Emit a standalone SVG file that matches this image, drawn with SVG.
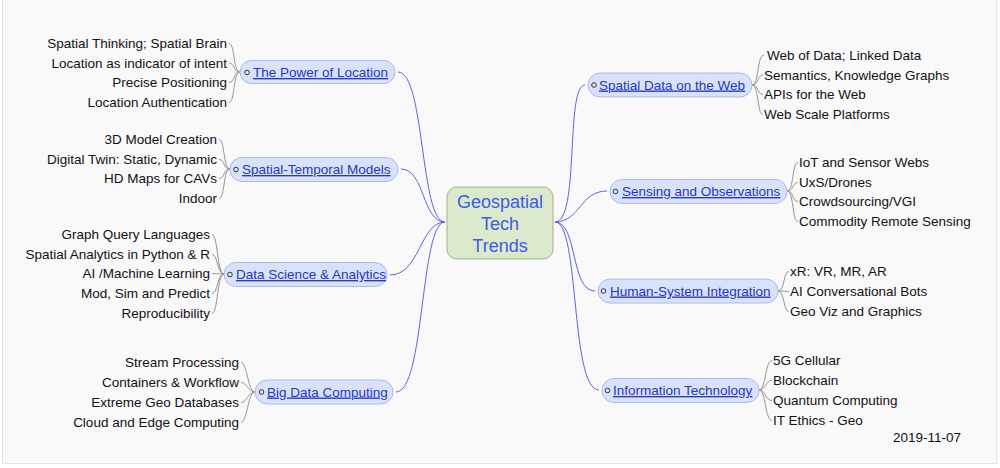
<svg xmlns="http://www.w3.org/2000/svg" width="1000" height="468" viewBox="0 0 1000 468">
<style>
.bg{fill:#f9f9fa;stroke:#e4e4e6;stroke-width:1}
.pill{fill:#d9e2fa;stroke:#aab9ee;stroke-width:1}
.lbl{font-family:"Liberation Sans",Arial,sans-serif;font-size:13.5px;fill:#2437c9;text-decoration:underline}
.leaf{font-family:"Liberation Sans",Arial,sans-serif;font-size:13.5px;fill:#111}
.leaf-l{text-anchor:end}
.ico{fill:none;stroke:#333;stroke-width:1}
.main{fill:none;stroke:#5b67dc;stroke-width:1}
.sub{fill:none;stroke:#8a8a8a;stroke-width:0.9}
.ctr{fill:#dde9cc;stroke:#99b685;stroke-width:1}
.ctxt{font-family:"Liberation Sans",Arial,sans-serif;font-size:18px;fill:#3a5ce6;text-anchor:middle}
</style>
<rect x="0" y="0" width="1000" height="468" fill="#ffffff"/>
<rect class="bg" x="2.5" y="-1" width="994" height="464.5"/>

<g id="connectors">
  <path class="main" d="M398,72 C425,72 420,222 445,222"/>
  <path class="main" d="M401,169 C425,169 422,222 445,222"/>
  <path class="main" d="M390,275 C420,275 420,222 445,222"/>
  <path class="main" d="M396,392 C425,392 420,222 445,222"/>
  <path class="main" d="M585,85 C565,85 580,222 555,222"/>
  <path class="main" d="M607,191 C580,191 580,222 555,222"/>
  <path class="main" d="M595,291 C570,291 578,222 555,222"/>
  <path class="main" d="M599,390 C570,390 580,222 555,222"/>

  <path class="sub" d="M240,72 C233,72 235,43.5 229,43.5"/>
  <path class="sub" d="M240,72 C233,72 235,63 229,63"/>
  <path class="sub" d="M240,72 C233,72 235,82.5 229,82.5"/>
  <path class="sub" d="M240,72 C233,72 235,102.5 229,102.5"/>

  <path class="sub" d="M230,169 C223,169 225,139.5 219,139.5"/>
  <path class="sub" d="M230,169 C223,169 225,159.5 219,159.5"/>
  <path class="sub" d="M230,169 C223,169 225,178.5 219,178.5"/>
  <path class="sub" d="M230,169 C223,169 225,198.5 219,198.5"/>

  <path class="sub" d="M224,274 C217,274 218,234.5 212,234.5"/>
  <path class="sub" d="M224,274 C217,274 218,254.5 212,254.5"/>
  <path class="sub" d="M224,274 C217,274 218,273.5 212,273.5"/>
  <path class="sub" d="M224,274 C217,274 218,293.5 212,293.5"/>
  <path class="sub" d="M224,274 C217,274 218,313.5 212,313.5"/>

  <path class="sub" d="M255,392 C248,392 247,362.5 241,362.5"/>
  <path class="sub" d="M255,392 C248,392 247,382.5 241,382.5"/>
  <path class="sub" d="M255,392 C248,392 247,402.5 241,402.5"/>
  <path class="sub" d="M255,392 C248,392 247,422.5 241,422.5"/>

  <path class="sub" d="M752,85 C759,85 757,55 764,55"/>
  <path class="sub" d="M752,85 C759,85 757,75 763,75"/>
  <path class="sub" d="M752,85 C759,85 757,94.5 763,94.5"/>
  <path class="sub" d="M752,85 C759,85 757,114.5 763,114.5"/>

  <path class="sub" d="M787,191 C794,191 792,162.5 798,162.5"/>
  <path class="sub" d="M787,191 C794,191 792,182.5 798,182.5"/>
  <path class="sub" d="M787,191 C794,191 792,201.5 798,201.5"/>
  <path class="sub" d="M787,191 C794,191 792,221.5 798,221.5"/>

  <path class="sub" d="M778,291 C785,291 783,271.5 789,271.5"/>
  <path class="sub" d="M778,291 C785,291 783,291.5 789,291.5"/>
  <path class="sub" d="M778,291 C785,291 783,311.5 789,311.5"/>

  <path class="sub" d="M759,390 C766,390 765,360.5 772,360.5"/>
  <path class="sub" d="M759,390 C766,390 765,380.5 772,380.5"/>
  <path class="sub" d="M759,390 C766,390 765,400.5 772,400.5"/>
  <path class="sub" d="M759,390 C766,390 765,420.5 772,420.5"/>
</g>

<g id="center">
  <rect class="ctr" x="447" y="187" width="106" height="72" rx="10"/>
  <text class="ctxt" x="500" y="208">Geospatial</text>
  <text class="ctxt" x="500" y="230">Tech</text>
  <text class="ctxt" x="500" y="252">Trends</text>
</g>

<g id="power-of-location">
  <rect class="pill" x="240" y="60.5" width="155" height="23" rx="11.5"/>
  <circle class="ico" cx="247" cy="72.5" r="2.3"/>
  <text class="lbl" x="253" y="77">The Power of Location</text>
  <text class="leaf leaf-l" x="227" y="48">Spatial Thinking; Spatial Brain</text>
  <text class="leaf leaf-l" x="227" y="67.5">Location as indicator of intent</text>
  <text class="leaf leaf-l" x="227" y="87">Precise Positioning</text>
  <text class="leaf leaf-l" x="227" y="107">Location Authentication</text>
</g>

<g id="spatial-temporal-models">
  <rect class="pill" x="230" y="157.5" width="168" height="24" rx="12"/>
  <circle class="ico" cx="236" cy="169.5" r="2.3"/>
  <text class="lbl" x="242" y="174">Spatial-Temporal Models</text>
  <text class="leaf leaf-l" x="217" y="144">3D Model Creation</text>
  <text class="leaf leaf-l" x="217" y="164">Digital Twin: Static, Dynamic</text>
  <text class="leaf leaf-l" x="217" y="183">HD Maps for CAVs</text>
  <text class="leaf leaf-l" x="217" y="203">Indoor</text>
</g>

<g id="data-science">
  <rect class="pill" x="224" y="262.5" width="163" height="24" rx="12"/>
  <circle class="ico" cx="230" cy="274.5" r="2.3"/>
  <text class="lbl" x="236" y="279">Data Science &amp; Analytics</text>
  <text class="leaf leaf-l" x="210" y="239">Graph Query Languages</text>
  <text class="leaf leaf-l" x="210" y="259">Spatial Analytics in Python &amp; R</text>
  <text class="leaf leaf-l" x="210" y="278">AI /Machine Learning</text>
  <text class="leaf leaf-l" x="210" y="298">Mod, Sim and Predict</text>
  <text class="leaf leaf-l" x="210" y="318">Reproducibility</text>
</g>

<g id="big-data-computing">
  <rect class="pill" x="255" y="380" width="138" height="24" rx="12"/>
  <circle class="ico" cx="261.5" cy="392" r="2.3"/>
  <text class="lbl" x="267" y="396.5">Big Data Computing</text>
  <text class="leaf leaf-l" x="239" y="367">Stream Processing</text>
  <text class="leaf leaf-l" x="239" y="387">Containers &amp; Workflow</text>
  <text class="leaf leaf-l" x="239" y="407">Extreme Geo Databases</text>
  <text class="leaf leaf-l" x="239" y="427">Cloud and Edge Computing</text>
</g>

<g id="spatial-data-web">
  <rect class="pill" x="588" y="73" width="164" height="24" rx="12"/>
  <circle class="ico" cx="594" cy="85" r="2.3"/>
  <text class="lbl" x="599" y="89.5">Spatial Data on the Web</text>
  <text class="leaf" x="767" y="60">Web of Data; Linked Data</text>
  <text class="leaf" x="764" y="80">Semantics, Knowledge Graphs</text>
  <text class="leaf" x="764" y="99">APIs for the Web</text>
  <text class="leaf" x="764" y="119">Web Scale Platforms</text>
</g>

<g id="sensing-observations">
  <rect class="pill" x="610" y="179.5" width="177" height="24" rx="12"/>
  <circle class="ico" cx="615.5" cy="191.5" r="2.3"/>
  <text class="lbl" x="622" y="196">Sensing and Observations</text>
  <text class="leaf" x="799" y="167">IoT and Sensor Webs</text>
  <text class="leaf" x="799" y="187">UxS/Drones</text>
  <text class="leaf" x="799" y="206">Crowdsourcing/VGI</text>
  <text class="leaf" x="799" y="226">Commodity Remote Sensing</text>
</g>

<g id="human-system-integration">
  <rect class="pill" x="598" y="279" width="180" height="24" rx="12"/>
  <circle class="ico" cx="603.5" cy="291" r="2.3"/>
  <text class="lbl" x="610" y="295.5">Human-System Integration</text>
  <text class="leaf" x="790" y="276">xR: VR, MR, AR</text>
  <text class="leaf" x="790" y="296">AI Conversational Bots</text>
  <text class="leaf" x="790" y="316">Geo Viz and Graphics</text>
</g>

<g id="information-technology">
  <rect class="pill" x="602" y="378.5" width="157" height="24" rx="12"/>
  <circle class="ico" cx="607.5" cy="390.5" r="2.3"/>
  <text class="lbl" x="613" y="395">Information Technology</text>
  <text class="leaf" x="773" y="365">5G Cellular</text>
  <text class="leaf" x="773" y="385">Blockchain</text>
  <text class="leaf" x="773" y="405">Quantum Computing</text>
  <text class="leaf" x="773" y="425">IT Ethics - Geo</text>
</g>

<text class="leaf" x="893" y="442">2019-11-07</text>
</svg>
